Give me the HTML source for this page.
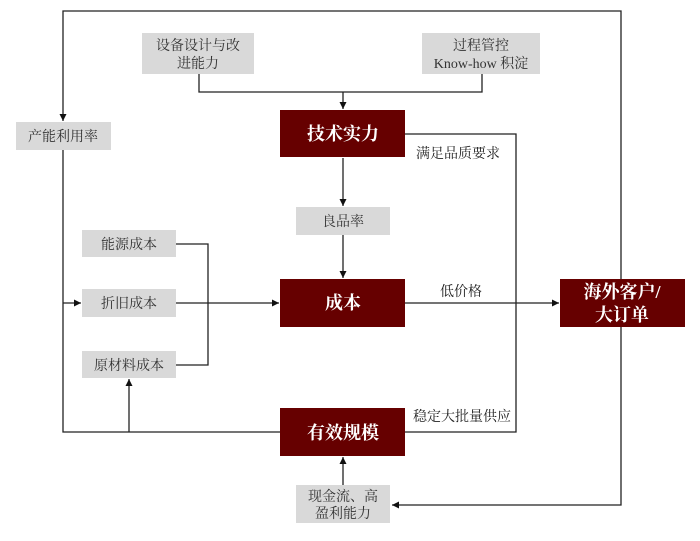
<!DOCTYPE html>
<html><head><meta charset="utf-8"><style>
body{margin:0;background:#fff;width:700px;height:536px;overflow:hidden}
svg text{font-family:"Liberation Serif","Noto Serif CJK SC",serif}
</style></head><body>
<svg width="700" height="536" viewBox="0 0 700 536">
<defs><marker id="a" markerWidth="8" markerHeight="8" refX="7" refY="4" orient="auto" markerUnits="userSpaceOnUse"><path d="M0,0.5 L7,4 L0,7.5Z" fill="#111"/></marker></defs>
<g stroke="#222" stroke-width="1.3" fill="none">
<polyline points="621,279 621,11 63,11 63,121" marker-end="url(#a)"/>
<polyline points="63,150 63,432 280,432"/>
<line x1="63" y1="303" x2="81" y2="303" marker-end="url(#a)"/>
<polyline points="129,432 129,379" marker-end="url(#a)"/>
<polyline points="199,74 199,92 482,92 482,74"/>
<line x1="343" y1="92" x2="343" y2="109" marker-end="url(#a)"/>
<line x1="343" y1="158" x2="343" y2="206" marker-end="url(#a)"/>
<line x1="343" y1="235" x2="343" y2="278" marker-end="url(#a)"/>
<polyline points="405,134 516,134 516,432 405,432"/>
<polyline points="176,244 208,244 208,365 176,365"/>
<line x1="176" y1="303" x2="279" y2="303" marker-end="url(#a)"/>
<line x1="405" y1="303" x2="559" y2="303" marker-end="url(#a)"/>
<polyline points="621,327 621,505 392,505" marker-end="url(#a)"/>
<line x1="343" y1="485" x2="343" y2="457" marker-end="url(#a)"/>
</g>
<g fill="#d9d9d9">
<rect x="142" y="33" width="112" height="41"/>
<rect x="422" y="33" width="118" height="41"/>
<rect x="16" y="122" width="95" height="28"/>
<rect x="296" y="207" width="94" height="28"/>
<rect x="82" y="230" width="94" height="27"/>
<rect x="82" y="289" width="94" height="28"/>
<rect x="82" y="351" width="94" height="27"/>
<rect x="296" y="485" width="94" height="38"/>
</g>
<g fill="#660000">
<rect x="280" y="110" width="125" height="47"/>
<rect x="280" y="279" width="125" height="48"/>
<rect x="560" y="279" width="125" height="48"/>
<rect x="280" y="408" width="125" height="48"/>
</g>
<g font-size="14" fill="#333" text-anchor="middle">
<text x="198" y="50">设备设计与改</text>
<text x="198" y="68">进能力</text>
<text x="481" y="50">过程管控</text>
<text x="481" y="68">Know-how 积淀</text>
<text x="63" y="141">产能利用率</text>
<text x="343" y="226">良品率</text>
<text x="129" y="249">能源成本</text>
<text x="129" y="308">折旧成本</text>
<text x="129" y="370">原材料成本</text>
<text x="343" y="501">现金流、高</text>
<text x="343" y="518">盈利能力</text>
</g>
<g font-size="14" fill="#222">
<text x="416" y="158">满足品质要求</text>
<text x="440" y="296">低价格</text>
<text x="413" y="421">稳定大批量供应</text>
</g>
<g font-size="18" fill="#fff" font-weight="bold" text-anchor="middle">
<text x="343" y="140">技术实力</text>
<text x="343" y="309">成本</text>
<text x="622" y="298">海外客户/</text>
<text x="622" y="321">大订单</text>
<text x="343" y="439">有效规模</text>
</g>
</svg>
</body></html>
